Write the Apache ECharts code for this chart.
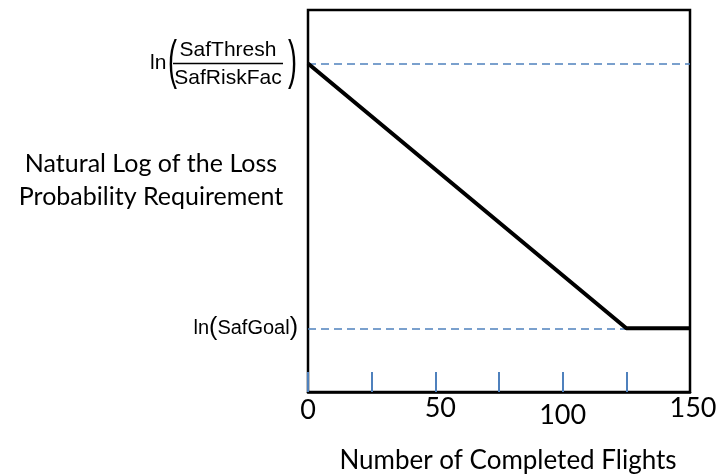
<!DOCTYPE html>
<html>
<head>
<meta charset="utf-8">
<script src="https://cdn.jsdelivr.net/npm/echarts@6/dist/echarts.min.js"></script>
<style>
  html, body { margin: 0; padding: 0; background: #fff; }
  #chart { width: 718px; height: 474px; }
</style>
</head>
<body>
<div id="chart"></div>
<script>
// Completed flights at each breakpoint of the requirement curve
const flights = [0, 125, 150];
// Natural log of the loss probability requirement (schematic scale)
const logRequirement = [129, 25, 25];
// Reference levels: ln(SafThresh/SafRiskFac) and ln(SafGoal)
const startLevel = 129;
const goalLevel = 25;
// Horizontal axis ticks and labels
const xTicks = [0, 25, 50, 75, 100, 125];
const xLabels = [0, 50, 100, 150];

const calibriLike = 'Lato, "Open Sans", sans-serif';
const mathFont = '"Liberation Sans", Arial, sans-serif';
const guideBlue = '#4F81BD';

const chart = echarts.init(document.getElementById('chart'), null, { renderer: 'canvas' });

const tickFont = { fontFamily: calibriLike, fontSize: 27, color: '#000' };
const labelStyle = {
  n: Object.assign({ padding: [2, 0, 0, 0] }, tickFont),
  r: Object.assign({ padding: [0, 0, 0, 10] }, tickFont),
  lo: Object.assign({ padding: [7, 0, 0, 0] }, tickFont),
  hi: Object.assign({ padding: [0, 0, 0, 6] }, tickFont)
};

chart.setOption({
  animation: false,
  backgroundColor: '#fff',
  title: {
    text: 'Natural Log of the Loss\nProbability Requirement',
    left: 146, top: 142, textAlign: 'center',
    textStyle: { fontFamily: calibriLike, fontSize: 25, fontWeight: 'normal', color: '#000', lineHeight: 33, align: 'center' }
  },
  grid: {
    left: 308, top: 10, width: 382, height: 382,
    outerBoundsMode: 'none',
    containLabel: false,
    show: true, borderColor: '#000', borderWidth: 2.5, backgroundColor: 'transparent'
  },
  xAxis: {
    type: 'value',
    min: 0, max: 150, interval: 25,
    name: 'Number of Completed Flights',
    nameLocation: 'middle',
    nameGap: 56,
    nameTextStyle: { fontFamily: calibriLike, fontSize: 26, color: '#000', padding: [0, 0, 0, 18] },
    axisLine: { show: true, lineStyle: { color: '#000', width: 2.5 } },
    axisTick: {
      show: true, inside: true, length: 20,
      customValues: xTicks,
      lineStyle: { color: guideBlue, width: 2 }
    },
    axisLabel: {
      show: true, margin: 3,
      customValues: xLabels,
      formatter: function (v) {
        if (v === 100) return '{lo|' + v + '}';
        if (v === 150) return '{hi|' + v + '}';
        if (v === 50) return '{r|' + v + '}';
        return '{n|' + v + '}';
      },
      rich: labelStyle
    },
    splitLine: { show: false }
  },
  yAxis: {
    type: 'value',
    min: 0, max: 150,
    axisLine: { show: false },
    axisTick: { show: false },
    splitLine: { show: false },
    axisLabel: {
      show: true, margin: 10,
      customValues: [goalLevel],
      formatter: function () { return '{t|ln}{p|(}{t|SafGoal}{p|)}'; },
      rich: {
        t: { fontFamily: mathFont, fontSize: 20, color: '#000' },
        p: { fontFamily: mathFont, fontSize: 25, color: '#000' }
      }
    }
  },
  series: [{
    type: 'line',
    data: flights.map((f, i) => [f, logRequirement[i]]),
    symbol: 'none',
    lineStyle: { color: '#000', width: 4 },
    z: 3,
    markLine: {
      silent: true,
      symbol: ['none', 'none'],
      label: { show: false },
      lineStyle: { color: guideBlue, width: 1.5, type: [8, 5] },
      data: [
        [{ coord: [0, startLevel] }, { coord: [150, startLevel] }],
        [{ coord: [0, goalLevel] }, { coord: [150, goalLevel] }]
      ],
      z: 2
    }
  }]
});

// Fraction label ln(SafThresh / SafRiskFac), anchored to the start level on the y axis
const yTop = chart.convertToPixel({ yAxisIndex: 0 }, startLevel);
const xAxisLeft = chart.convertToPixel({ xAxisIndex: 0 }, 0);
const fracCenter = xAxisLeft - 80;
chart.setOption({
  graphic: [
    { type: 'text', x: xAxisLeft - 158, y: yTop,
      style: { text: 'ln', font: '21px ' + mathFont, fill: '#000', textAlign: 'left', textVerticalAlign: 'middle' } },
    { type: 'text', x: xAxisLeft - 140, y: yTop, scaleX: 0.5,
      style: { text: '(', font: '54px ' + mathFont, fill: '#000', textAlign: 'left', textVerticalAlign: 'middle' } },
    { type: 'text', x: fracCenter, y: yTop - 3,
      style: { text: 'SafThresh', font: '21px ' + mathFont, fill: '#000', textAlign: 'center', textVerticalAlign: 'bottom' } },
    { type: 'line', shape: { x1: fracCenter - 55, y1: yTop, x2: fracCenter + 55, y2: yTop },
      style: { stroke: '#000', lineWidth: 1.3 } },
    { type: 'text', x: fracCenter, y: yTop + 4,
      style: { text: 'SafRiskFac', font: '21px ' + mathFont, fill: '#000', textAlign: 'center', textVerticalAlign: 'top' } },
    { type: 'text', x: xAxisLeft - 20, y: yTop, scaleX: 0.5,
      style: { text: ')', font: '54px ' + mathFont, fill: '#000', textAlign: 'left', textVerticalAlign: 'middle' } }
  ]
});
</script>
</body>
</html>
